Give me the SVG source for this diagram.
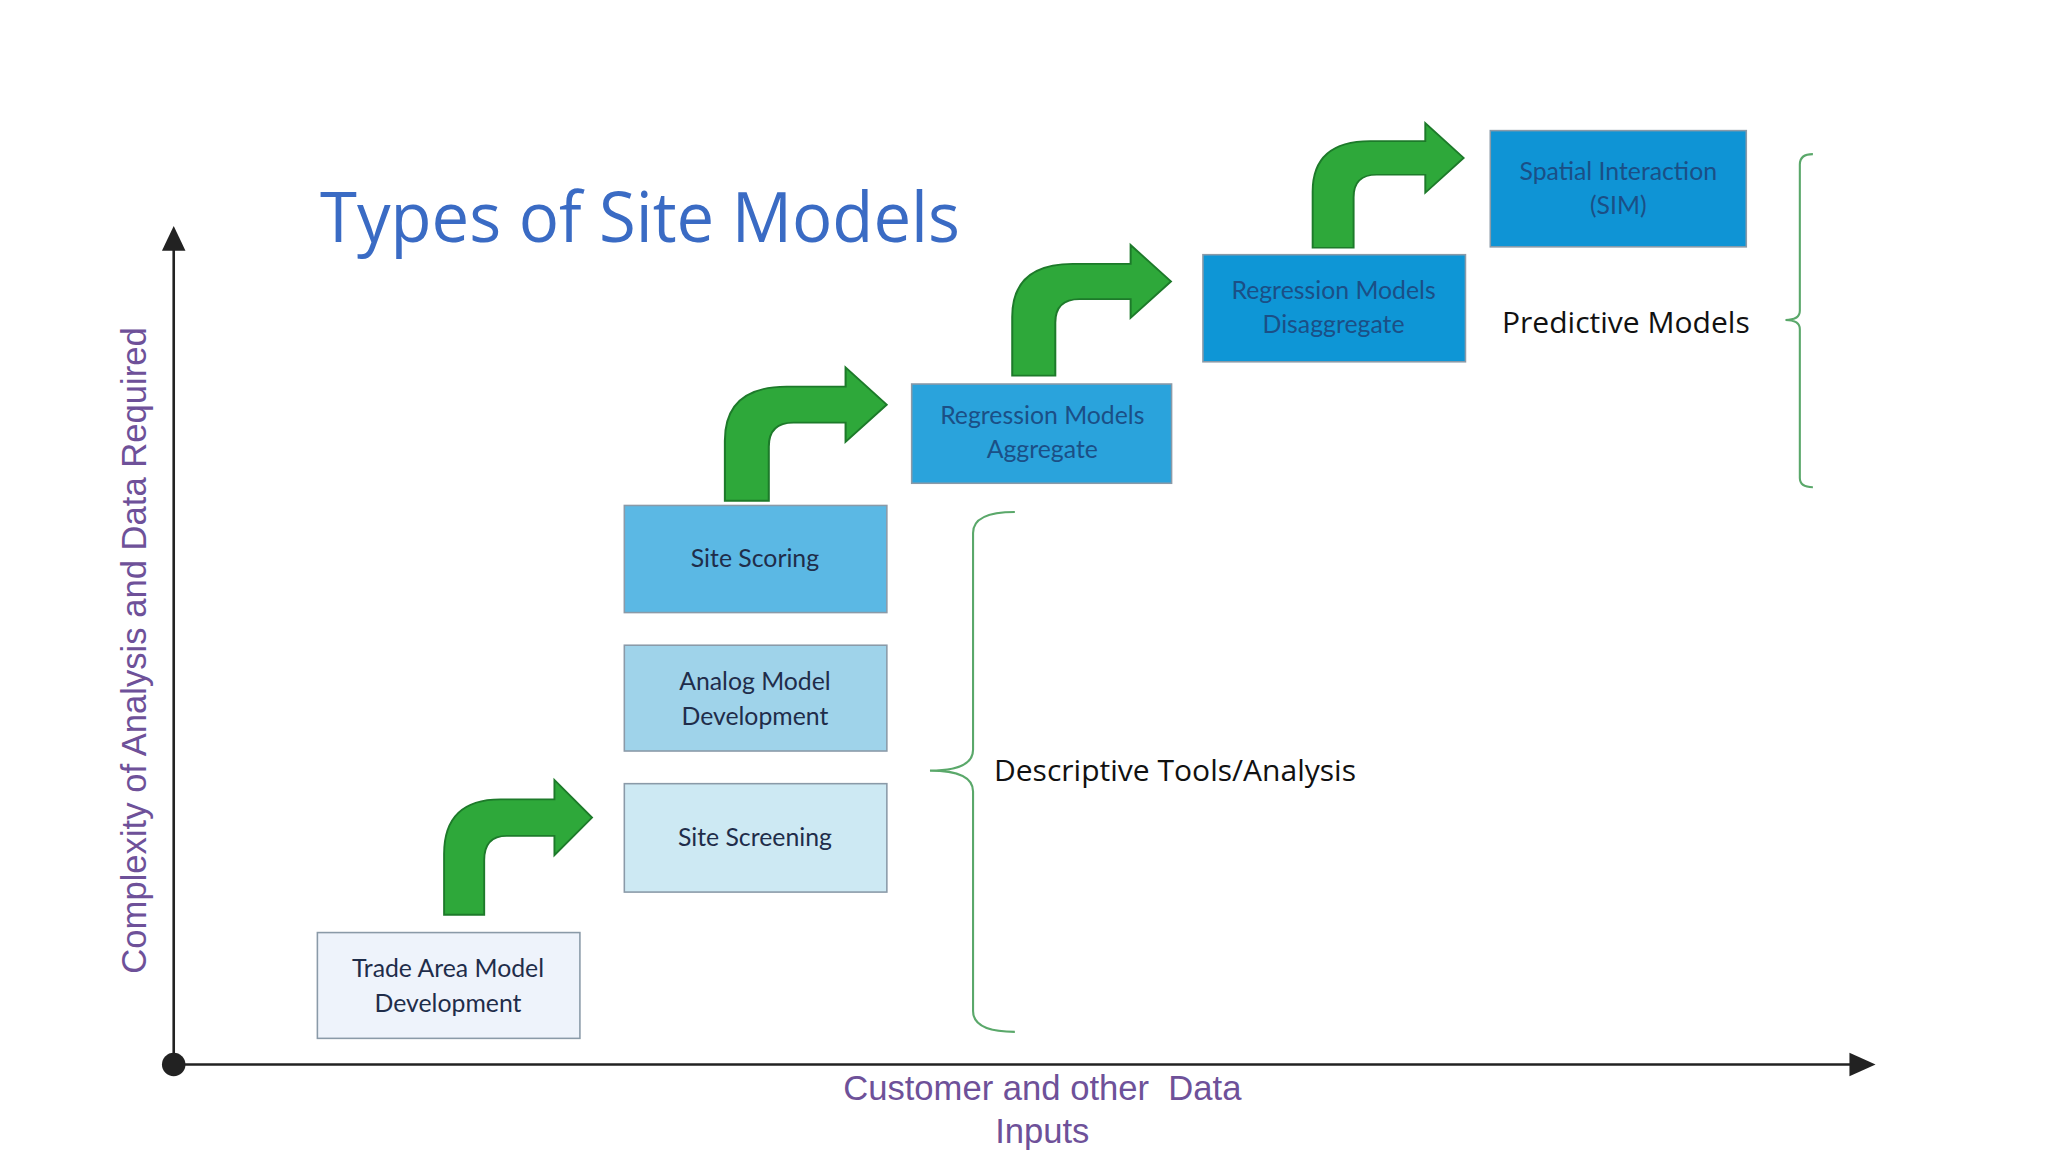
<svg xmlns="http://www.w3.org/2000/svg" width="2048" height="1152" viewBox="0 0 2048 1152">
<style>
.box{stroke:#8a9aa8;stroke-width:1.2}
.bt{font-family:"Lato","Open Sans",sans-serif;font-size:19px;text-anchor:middle;fill:#1f2d4a}
.bt2{font-family:"Lato","Open Sans",sans-serif;font-size:19px;text-anchor:middle;fill:#1b4f86}
.arr{fill:#2ea83a;stroke:#1d7a2a;stroke-width:1.5}
.brace{fill:none;stroke:#5aa86a;stroke-width:1.6}
.lbl{font-family:"Open Sans","Liberation Sans",sans-serif;font-size:23px;fill:#111}
.ax{font-family:"Liberation Sans",sans-serif;font-size:26.5px;fill:#6e5199}
</style>
<defs>
<path id="ga" d="M0,95 L0,45 Q0,0 45,0 L88,0 L88,-16 L118,15 L88,46 L88,30 L50,30 Q32,30 32,50 L32,95 Z"/>
</defs>
<rect width="2048" height="1152" fill="#fff"/>
<g transform="scale(1.30612)">
<text x="245" y="185" font-family="'Open Sans','Liberation Sans',sans-serif" font-size="53" fill="#3a6bc4" textLength="490" lengthAdjust="spacingAndGlyphs">Types of Site Models</text>
<g id="axes">
<line x1="133" y1="815" x2="133" y2="190" stroke="#222" stroke-width="2"/>
<polygon points="133,173 124,192 142,192" fill="#222"/>
<line x1="133" y1="815" x2="1418" y2="815" stroke="#222" stroke-width="2"/>
<polygon points="1436,815 1416,806 1416,824" fill="#222"/>
<circle cx="133" cy="815" r="9" fill="#222"/>
<text class="ax" transform="translate(112,498) rotate(-90)" text-anchor="middle">Complexity of Analysis and Data Required</text>
<text class="ax" x="798" y="842" text-anchor="middle" xml:space="preserve">Customer and other  Data</text>
<text class="ax" x="798" y="875" text-anchor="middle">Inputs</text>
</g>
<g id="n1"><rect class="box" x="243" y="714" width="201" height="81" fill="#eef3fb"/><text class="bt" x="343" y="748">Trade Area Model</text><text class="bt" x="343" y="775">Development</text></g>
<g id="n2"><rect class="box" x="478" y="600" width="201" height="83" fill="#cde9f3"/><text class="bt" x="578" y="648">Site Screening</text></g>
<g id="n3"><rect class="box" x="478" y="494" width="201" height="81" fill="#9fd3ea"/><text class="bt" x="578" y="528">Analog Model</text><text class="bt" x="578" y="555">Development</text></g>
<g id="n4"><rect class="box" x="478" y="387" width="201" height="82" fill="#5bb8e4"/><text class="bt" x="578" y="434">Site Scoring</text></g>
<g id="n5"><rect class="box" x="698" y="294" width="199" height="76" fill="#2aa3dc"/><text class="bt2" x="798" y="325">Regression Models</text><text class="bt2" x="798" y="351">Aggregate</text></g>
<g id="n6"><rect class="box" x="921" y="195" width="201" height="82" fill="#0e96d6"/><text class="bt2" x="1021" y="229">Regression Models</text><text class="bt2" x="1021" y="255">Disaggregate</text></g>
<g id="n7"><rect class="box" x="1141" y="100" width="196" height="89" fill="#0f94d5"/><text class="bt2" x="1239" y="138">Spatial Interaction</text><text class="bt2" x="1239" y="164">(SIM)</text></g>
<g id="connectors">
<use href="#ga" class="arr" transform="translate(340,612) scale(0.96,0.93)"/>
<use href="#ga" class="arr" transform="translate(555,296) scale(1.05,0.92)"/>
<use href="#ga" class="arr" transform="translate(775,202) scale(1.03,0.9)"/>
<use href="#ga" class="arr" transform="translate(1005,108) scale(0.98,0.86)"/>
</g>
<g id="braces">
<path class="brace" d="M777,392 Q745,392 745,408 L745,574 Q745,590 712,590 Q745,590 745,606 L745,774 Q745,790 777,790"/>
<path class="brace" d="M1388,118 Q1378,118 1378,126 L1378,238 Q1378,245 1367,245 Q1378,245 1378,252 L1378,366 Q1378,373 1388,373"/>
<text class="lbl" x="761" y="598">Descriptive Tools/Analysis</text>
<text class="lbl" x="1150" y="255">Predictive Models</text>
</g>
</g>
</svg>
